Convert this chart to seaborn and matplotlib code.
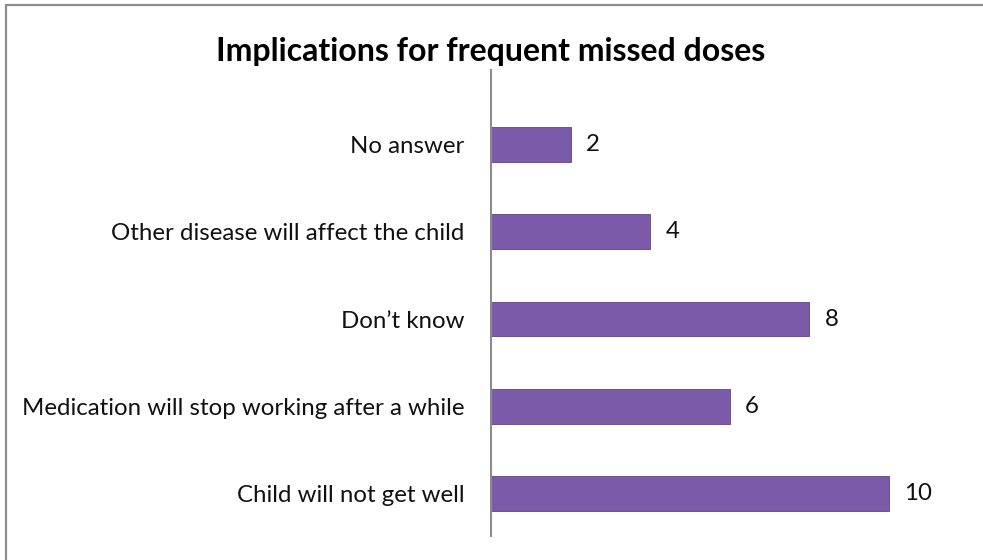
import matplotlib
matplotlib.use("Agg")
import matplotlib.pyplot as plt
import seaborn as sns
import pandas as pd
from matplotlib.patches import Rectangle

categories = ["No answer", "Other disease will affect the child", "Don\u2019t know",
              "Medication will stop working after a while", "Child will not get well"]
values = [2, 4, 8, 6, 10]
title = "Implications for frequent missed doses"

df = pd.DataFrame({"category": categories, "value": values})

sns.set_theme(style="white")
plt.rcParams['font.family'] = ['Lato', 'DejaVu Sans']

W, H = 983, 560
fig = plt.figure(figsize=(W / 100, H / 100), dpi=100)
fig.patch.set_facecolor("white")

# chart border (extends off right/bottom)
fig.add_artist(Rectangle((6 / W, -0.1), 1.2, (H - 5) / H + 0.1, transform=fig.transFigure,
                         fill=False, edgecolor="#8c8c8c", linewidth=1.6))

ax_left, ax_right = 491, 971
ax_top, ax_bot = 70, 536
ax = fig.add_axes([ax_left / W, (H - ax_bot) / H, (ax_right - ax_left) / W, (ax_bot - ax_top) / H])

sns.barplot(data=df, y="category", x="value", orient="h", color="#7b5aa9",
            saturation=1, width=0.40, ax=ax, edgecolor="#5e4487", linewidth=0.6)

ax.set_xlim(0, 12.06)
ax.set_ylim(4.487, -0.854)
ax.set_xlabel("")
ax.set_ylabel("")
ax.set_xticks([])
for s in ["top", "right", "bottom"]:
    ax.spines[s].set_visible(False)
ax.spines["left"].set_color("#8c8c8c")
ax.spines["left"].set_linewidth(1.5)
ax.tick_params(axis="y", length=0, pad=19, labelsize=17.3, labelcolor="#111111")
ax.set_facecolor("none")

for c in ax.containers:
    ax.bar_label(c, labels=[str(v) for v in values], padding=11, fontsize=17.3, color="#111111")

fig.text(491 / W, 1 - 52 / H, title, ha="center", va="center", fontsize=23,
         fontweight="bold", color="black")

fig.savefig("out.png", dpi=100)
